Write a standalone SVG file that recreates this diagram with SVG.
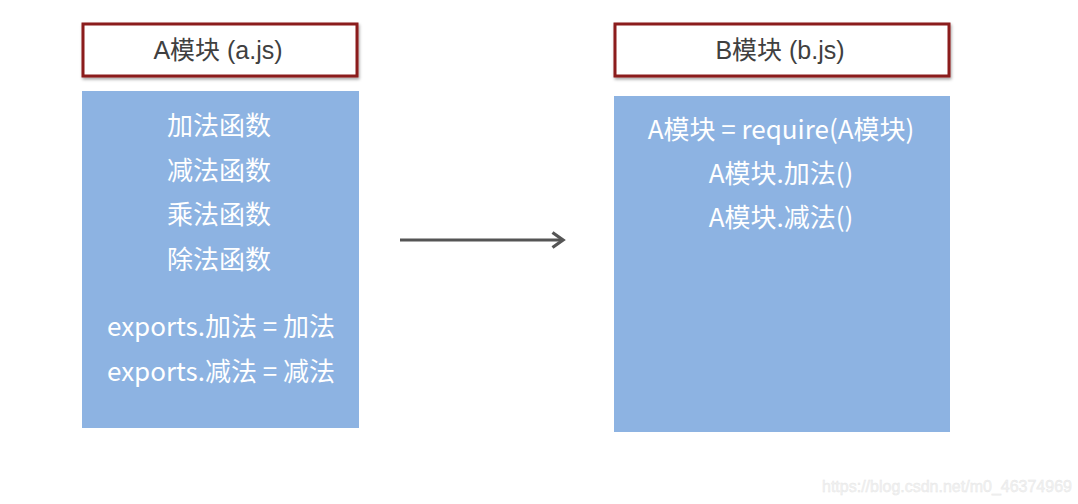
<svg xmlns="http://www.w3.org/2000/svg" width="1078" height="504" viewBox="0 0 1078 504">
<style>
.hdr{fill:#ffffff;stroke:#8b1a1a;stroke-width:3}
.body{fill:#8db3e2}
.ht{font-family:"Liberation Sans","Noto Sans CJK SC",sans-serif;font-size:25px;fill:#404040;text-anchor:middle}
.bt{font-family:"Noto Sans CJK SC","Liberation Sans",sans-serif;font-size:26px;fill:#ffffff;text-anchor:middle}
.wm{font-family:"Liberation Sans",sans-serif;font-size:16px;fill:#f2f2f2;stroke:#e6e6e6;stroke-width:0.4}
</style>
<defs>
<filter id="sh" x="-5%" y="-10%" width="110%" height="130%"><feDropShadow dx="1" dy="2" stdDeviation="1.5" flood-color="#000" flood-opacity="0.35"/></filter>
<marker id="ah" viewBox="0 0 12 12" refX="9" refY="6" markerWidth="6" markerHeight="6" orient="auto" markerUnits="strokeWidth"><path d="M2,1 L9,6 L2,11" fill="none" stroke="#555" stroke-width="2.2"/></marker>
</defs>
<rect width="1078" height="504" fill="#ffffff"/>
<g id="nodeA">
<rect class="hdr" x="83" y="24" width="274" height="52" filter="url(#sh)"/>
<text class="ht" x="218" y="59">A模块 (a.js)</text>
<rect class="body" x="82" y="91" width="277" height="337"/>
<text class="bt" x="219" y="135">加法函数</text>
<text class="bt" x="219" y="180">减法函数</text>
<text class="bt" x="219" y="224">乘法函数</text>
<text class="bt" x="219" y="269">除法函数</text>
<text class="bt" x="221" y="336">exports.加法 = 加法</text>
<text class="bt" x="221" y="381">exports.减法 = 减法</text>
</g>
<g id="nodeB">
<rect class="hdr" x="615" y="24" width="334" height="52" filter="url(#sh)"/>
<text class="ht" x="780" y="59">B模块 (b.js)</text>
<rect class="body" x="614" y="96" width="336" height="336"/>
<text class="bt" x="781" y="139">A模块 = require(A模块)</text>
<text class="bt" x="781" y="183">A模块.加法()</text>
<text class="bt" x="781" y="227">A模块.减法()</text>
</g>
<g id="connectors">
<line x1="400" y1="240" x2="563" y2="240" stroke="#555" stroke-width="3" marker-end="url(#ah)"/>
</g>
<text class="wm" x="822" y="492">https://blog.csdn.net/m0_46374969</text>
</svg>
